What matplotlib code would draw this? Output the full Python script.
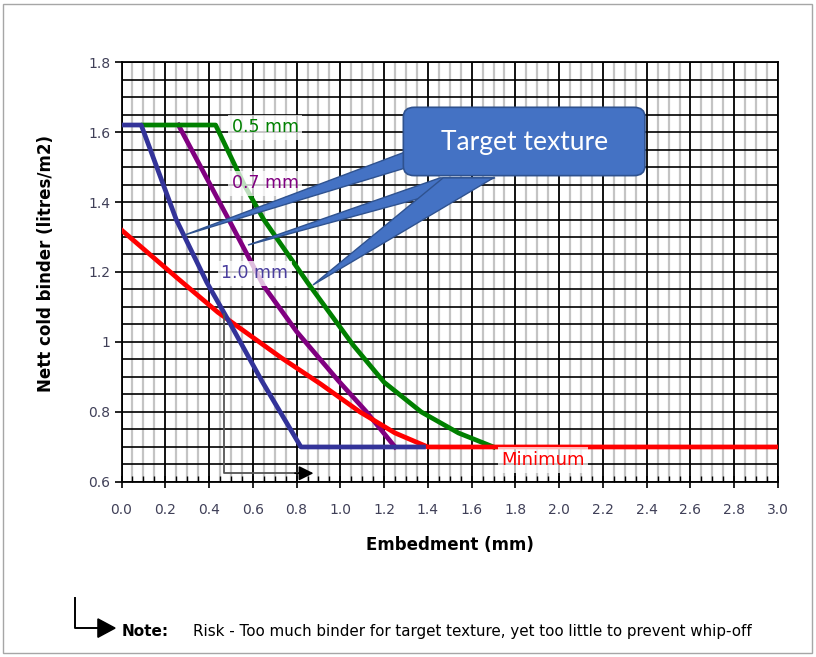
import numpy as np
import matplotlib
matplotlib.use("Agg")
import matplotlib.pyplot as plt
from matplotlib.patches import FancyBboxPatch, Polygon, Rectangle

# curves (embedment mm, binder l/m2)
x_10 = [0.0, 0.09, 0.25, 0.39, 0.49, 0.64, 0.82, 1.38]
y_10 = [1.62, 1.62, 1.35, 1.17, 1.06, 0.89, 0.70, 0.70]
x_07 = [0.26, 0.49, 0.65, 0.80, 0.99, 1.12, 1.25]
y_07 = [1.62, 1.35, 1.16, 1.03, 0.89, 0.80, 0.70]
x_05 = [0.10, 0.43, 0.56, 0.65, 0.85, 1.06, 1.20, 1.37, 1.54, 1.70]
y_05 = [1.62, 1.62, 1.45, 1.35, 1.17, 0.99, 0.885, 0.80, 0.74, 0.70]
x_min = [0.0, 0.26, 0.44, 0.73, 0.91, 1.09, 1.25, 1.40, 3.0]
y_min = [1.32, 1.18, 1.085, 0.955, 0.88, 0.80, 0.74, 0.70, 0.70]

xticks = np.round(np.arange(0, 3.01, 0.2), 1)
yticks = [0.6, 0.8, 1.0, 1.2, 1.4, 1.6, 1.8]
ytick_labels = ["0.6", "0.8", "1", "1.2", "1.4", "1.6", "1.8"]

fig = plt.figure(figsize=(8.16, 6.57), dpi=100)
ax = fig.add_axes([0.1489, 0.2664, 0.8045, 0.6392])

ax.set_xlim(0, 3.0)
ax.set_ylim(0.6, 1.8)
ax.set_xticks(xticks)
ax.set_xticklabels(["%.1f" % v for v in xticks])
ax.set_xticks(np.arange(0, 3.01, 0.05), minor=True)
ax.set_yticks(yticks)
ax.set_yticklabels(ytick_labels)
ax.set_yticks(np.arange(0.6, 1.801, 0.05), minor=True)

ax.grid(which="major", axis="x", color="black", lw=1.3, zorder=0)
ax.grid(which="minor", axis="x", color="#c4c4c4", lw=1.6, zorder=0)
ax.grid(which="both", axis="y", color="black", lw=1.2, zorder=0)
ax.set_axisbelow(True)
for s in ax.spines.values():
    s.set_color("black")
    s.set_linewidth(1.3)

tick_col = "#404058"
ax.tick_params(axis="x", which="major", direction="inout", length=8, width=1.2,
               pad=11, labelsize=10, labelcolor=tick_col)
ax.tick_params(axis="x", which="minor", direction="in", length=4, width=1)
ax.tick_params(axis="y", which="major", direction="out", length=5, width=1.2,
               pad=3, labelsize=10, labelcolor=tick_col)
ax.tick_params(axis="y", which="minor", length=0)

ax.set_xlabel("Embedment (mm)", fontsize=12, fontweight="bold")
ax.set_ylabel("Nett cold binder (litres/m2)", fontsize=12, fontweight="bold")
ax.xaxis.set_label_coords(0.5, -0.128)
ax.yaxis.set_label_coords(-0.101, 0.52)

lw = 3.4
ax.plot(x_07, y_07, color="#800080", lw=lw, zorder=3)
ax.plot(x_05, y_05, color="#008000", lw=lw, zorder=3)
ax.plot(x_min, y_min, color="#ff0000", lw=lw, zorder=4)
ax.plot(x_10, y_10, color="#333399", lw=lw, zorder=5)

box = dict(boxstyle="square,pad=0.2", fc="white", ec="none", alpha=0.75)
ax.text(0.656, 1.614, "0.5 mm", color="#008000", fontsize=12.5,
        ha="center", va="center", bbox=box, zorder=6)
ax.text(0.656, 1.454, "0.7 mm", color="#800080", fontsize=12.5,
        ha="center", va="center", bbox=box, zorder=6)
ax.text(0.61, 1.197, "1.0 mm", color="#4b3f9e", fontsize=12.5,
        ha="center", va="center", bbox=box, zorder=6)
ax.text(1.926, 0.663, "Minimum", color="#ff0000", fontsize=13,
        ha="center", va="center",
        bbox=dict(boxstyle="square,pad=0.2", fc="white", ec="none", alpha=0.72),
        zorder=6)

# risk marker arrow inside plot
ax.plot([0.47, 0.47, 0.82], [1.08, 0.625, 0.625], color="#555555", lw=1.3, zorder=6)
ax.annotate("", xy=(0.89, 0.625), xytext=(0.78, 0.625),
            arrowprops=dict(arrowstyle="-|>", color="black", lw=1.2,
                            mutation_scale=22), zorder=7)

# callout "Target texture"
blue_fc = "#4472c4"
blue_ec = "#2f528f"
wedges = [
    [(1.296, 1.543), (1.296, 1.497), (0.29, 1.306)],
    [(1.456, 1.469), (1.707, 1.469), (0.578, 1.277)],
    [(1.47, 1.469), (1.70, 1.469), (0.875, 1.163)],
]
for w in wedges:
    ax.add_patch(Polygon(w, closed=True, fc=blue_fc, ec=blue_ec, lw=1, zorder=8))
ax.add_patch(FancyBboxPatch((1.30, 1.482), 1.08, 0.182,
                            boxstyle="round,pad=0.012,rounding_size=0.05",
                            fc=blue_fc, ec=blue_ec, lw=1.2, zorder=9,
                            mutation_aspect=0.55))
ax.text(1.84, 1.571, "Target texture", color="white", fontsize=19,
        family="Lato", ha="center", va="center", zorder=10)

# note at bottom
fig.add_artist(plt.Line2D([0.092, 0.092, 0.125], [0.090, 0.044, 0.044],
                          color="black", lw=1.4))
fig.add_artist(Polygon([(0.120, 0.058), (0.120, 0.030), (0.141, 0.044)],
                       closed=True, fc="black", ec="black"))
fig.text(0.1495, 0.039, "Note:", fontsize=11, fontweight="bold", va="center")
fig.text(0.2365, 0.039,
         "Risk - Too much binder for target texture, yet too little to prevent whip-off",
         fontsize=10.9, va="center")

fig.add_artist(Rectangle((0.004, 0.006), 0.991, 0.988, transform=fig.transFigure,
                         fill=False, ec="#a6a6a6", lw=1))

fig.savefig("out.png", dpi=100)
